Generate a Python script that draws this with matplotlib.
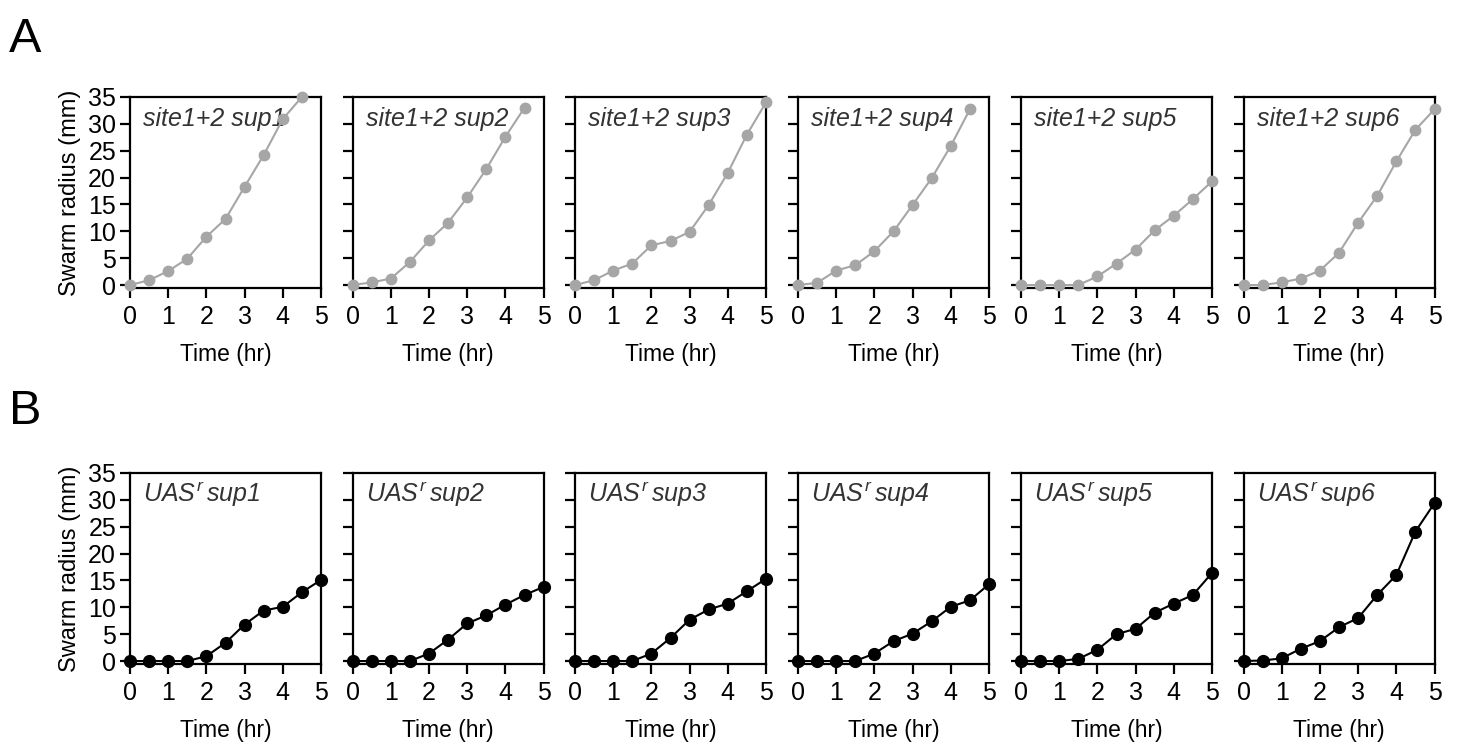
import matplotlib
matplotlib.use("Agg")
import matplotlib.pyplot as plt

plt.rcParams['font.family'] = ['Liberation Sans', 'DejaVu Sans']
plt.rcParams['mathtext.fontset'] = 'custom'
plt.rcParams['mathtext.it'] = 'Liberation Sans:italic'
plt.rcParams['mathtext.rm'] = 'Liberation Sans:italic'

time_full = [0, 0.5, 1, 1.5, 2, 2.5, 3, 3.5, 4, 4.5, 5]

labels_a = ["site1+2 sup1", "site1+2 sup2", "site1+2 sup3",
            "site1+2 sup4", "site1+2 sup5", "site1+2 sup6"]
labels_b = [r"$UAS^{r}\,sup1$", r"$UAS^{r}\,sup2$", r"$UAS^{r}\,sup3$",
            r"$UAS^{r}\,sup4$", r"$UAS^{r}\,sup5$", r"$UAS^{r}\,sup6$"]

a_sup1 = [0, 0.9, 2.6, 4.9, 9.0, 12.3, 18.3, 24.2, 30.9, 35.0]
a_sup2 = [0, 0.5, 1.2, 4.3, 8.3, 11.6, 16.3, 21.6, 27.6, 33.0]
a_sup3 = [0, 0.9, 2.7, 4.0, 7.4, 8.2, 9.9, 14.9, 20.9, 28.0, 34.0]
a_sup4 = [0, 0.4, 2.7, 3.7, 6.3, 10.0, 14.9, 19.9, 25.9, 32.7]
a_sup5 = [0, 0, 0, 0, 1.6, 4.0, 6.6, 10.2, 12.9, 16.0, 19.3]
a_sup6 = [0, 0, 0.5, 1.2, 2.7, 6.0, 11.6, 16.6, 23.0, 28.9, 32.7]

b_sup1 = [0, 0, 0, 0, 0.9, 3.4, 6.8, 9.4, 10.1, 12.8, 15.1]
b_sup2 = [0, 0, 0, 0, 1.4, 4.0, 7.0, 8.5, 10.5, 12.3, 13.8]
b_sup3 = [0, 0, 0, 0, 1.4, 4.3, 7.7, 9.6, 10.7, 13.0, 15.3]
b_sup4 = [0, 0, 0, 0, 1.4, 3.7, 5.1, 7.4, 10.1, 11.3, 14.3]
b_sup5 = [0, 0, 0, 0.4, 2.1, 5.0, 6.0, 9.0, 10.7, 12.3, 16.4]
b_sup6 = [0, 0.1, 0.5, 2.3, 3.7, 6.3, 8.0, 12.3, 16.0, 24.1, 29.4]

series_a = [a_sup1, a_sup2, a_sup3, a_sup4, a_sup5, a_sup6]
series_b = [b_sup1, b_sup2, b_sup3, b_sup4, b_sup5, b_sup6]

yticks = [0, 5, 10, 15, 20, 25, 30, 35]
xticks = [0, 1, 2, 3, 4, 5]

W, H = 1460, 752
fig = plt.figure(figsize=(W / 100, H / 100), dpi=100)

lefts = [130, 352.6, 575, 798, 1021, 1243.5]
pw = 191
rows = [(97, 288), (473, 664)]

def make_row(top, bottom, series, labels, color, ms, textstyle):
    for i, (lx, ys, lab) in enumerate(zip(lefts, series, labels)):
        ax = fig.add_axes([lx / W, 1 - bottom / H, pw / W, (bottom - top) / H])
        ax.plot(time_full[:len(ys)], ys, '-o', color=color, lw=1.5,
                ms=ms, clip_on=False, zorder=3)
        ax.set_xlim(0, 5)
        ax.set_ylim(-0.55, 35)
        ax.set_xticks(xticks)
        ax.set_yticks(yticks)
        for s in ax.spines.values():
            s.set_linewidth(1.6)
        ax.tick_params(direction='out', length=7, width=1.6, labelsize=18,
                       pad=3)
        ax.tick_params(axis='x', pad=5)
        ax.set_xlabel("Time (hr)", fontsize=16.5, labelpad=10)
        if i == 0:
            ax.set_ylabel("Swarm radius (mm)", fontsize=17, labelpad=5)
        else:
            ax.set_yticklabels([])
        ax.text(0.07, 0.885, lab, transform=ax.transAxes, fontsize=18,
                style=textstyle, color='#333333', va='center', ha='left',
                zorder=2)

make_row(*rows[0], series_a, labels_a, '#a6a6a6', 7.5, 'italic')
make_row(*rows[1], series_b, labels_b, 'black', 8.5, 'normal')

fig.text(9 / W, 1 - 40 / H, "A", fontsize=35, va='center', ha='left')
fig.text(9 / W, 1 - 411 / H, "B", fontsize=35, va='center', ha='left')

fig.savefig("out.png", dpi=100)
